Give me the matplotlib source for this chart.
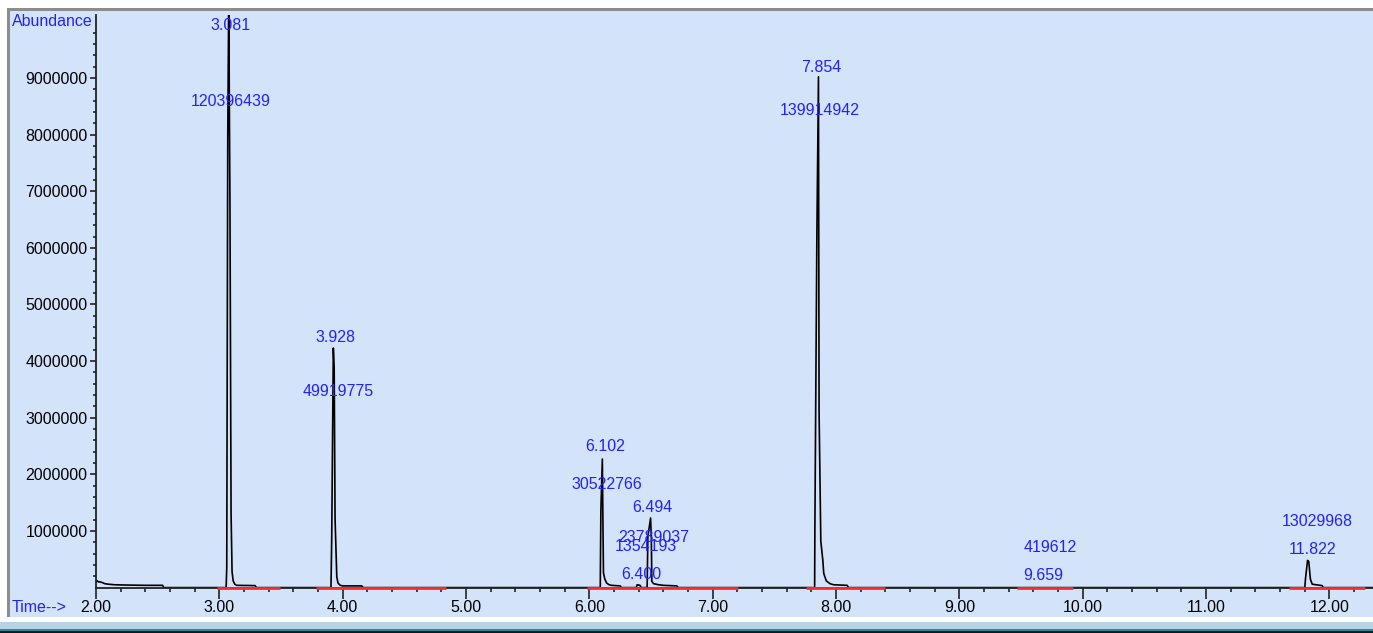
#%% Chromatogramm (TIC) nachbauen

import matplotlib
matplotlib.use("Agg")
import matplotlib.pyplot as plt
from matplotlib.patches import Rectangle
from matplotlib.ticker import FixedLocator, FuncFormatter

#%% Daten

# Spur: Zeit (min) und Abundance
trace_time = [2.000, 2.010, 2.020, 2.035, 2.050, 2.070, 2.100, 2.150, 2.250, 2.400, 2.540, 2.550,
              3.055, 3.060, 3.068, 3.076, 3.086, 3.095, 3.103, 3.112, 3.125, 3.140, 3.290, 3.300,
              3.905, 3.911, 3.924, 3.931, 3.938, 3.952, 3.962, 3.980, 4.000, 4.155, 4.165,
              6.088, 6.093, 6.105, 6.110, 6.114, 6.125, 6.140, 6.160, 6.180, 6.250, 6.260,
              6.380, 6.387, 6.410, 6.420,
              6.468, 6.474, 6.496, 6.502, 6.506, 6.520, 6.560, 6.600, 6.710, 6.720,
              7.826, 7.828, 7.844, 7.857, 7.862, 7.876, 7.892, 7.900, 7.920, 7.950, 7.980, 8.090, 8.100,
              11.800, 11.805, 11.822, 11.832, 11.845, 11.860, 11.940, 11.950, 12.360]
trace_abund = [110000, 120000, 100000, 100000, 90000, 70000, 60000, 50000, 45000, 40000, 40000, 0,
               0, 350000, 7900000, 10400000, 6750000, 1320000, 280000, 120000, 60000, 40000, 35000, 0,
               0, 880000, 4230000, 3880000, 1230000, 190000, 80000, 40000, 30000, 30000, 0,
               0, 1350000, 2270000, 1080000, 260000, 150000, 80000, 50000, 40000, 30000, 0,
               0, 50000, 40000, 0,
               0, 900000, 1230000, 900000, 110000, 70000, 50000, 40000, 30000, 0,
               0, 1060000, 6200000, 9020000, 3110000, 820000, 490000, 250000, 120000, 70000, 50000, 40000, 0,
               0, 150000, 480000, 460000, 150000, 60000, 35000, 0, 0]

# Integrierte Peaks: Retentionszeit und Flaeche
peak_rt = [3.081, 3.928, 6.102, 6.400, 6.494, 7.854, 9.659, 11.822]
peak_area = [120396439, 49919775, 30522766, 1354193, 23789037, 139914942, 419612, 13029968]

# Integrationsbasislinien (Start, Ende)
base_start = [2.98, 3.784, 5.98, 7.76, 9.47, 11.675]
base_end = [3.49, 4.839, 7.207, 8.40, 9.924, 12.29]

#%% Layout der Beschriftungen (x, y fuer RT-Label und Flaechen-Label)

rt_pos = [(3.093, 9.93e6), (3.938, 4.42e6), (6.125, 2.49e6), (6.418, 0.23e6),
          (6.507, 1.41e6), (7.877, 9.19e6), (9.680, 0.22e6), (11.862, 0.67e6)]
area_pos = [(3.093, 8.58e6), (3.963, 3.47e6), (6.144, 1.82e6), (6.455, 0.73e6),
            (6.525, 0.89e6), (7.870, 8.43e6), (9.734, 0.70e6), (11.900, 1.17e6)]

#%% Plot

W, H = 1373, 633
bg = "#d3e3fa"
blue = "#2222ff"
plt.rcParams["font.family"] = ["Liberation Sans", "DejaVu Sans"]

fig = plt.figure(figsize=(W / 100, H / 100), dpi=100, facecolor="white")

# Rahmen / Hintergrund
def fig_rect(x, y, w, h, color):
    fig.patches.append(Rectangle((x / W, 1 - (y + h) / H), w / W, h / H,
                                 transform=fig.transFigure, facecolor=color,
                                 edgecolor="none", zorder=-5))

fig_rect(10, 11, W, 606, bg)
fig_rect(7, 8, W, 3, "#8c8c8c")
fig_rect(7, 8, 3, 609, "#8c8c8c")
fig_rect(0, 622, W, 7, "#b9d3e6")
fig_rect(0, 629, W, 2, "#2a8a9a")
fig_rect(0, 631, W, 2, "#151515")

ax = fig.add_axes([96 / W, (H - 587.6) / H, (W - 96) / W, (587.6 - 15) / H])
ax.set_facecolor("none")
ax.set_zorder(5)

ax.plot(trace_time, trace_abund, color="black", lw=1.2, zorder=2)

for s, e in zip(base_start, base_end):
    ax.plot([s, e], [0, 0], color="#ff2a2a", lw=2.0, zorder=4, clip_on=False,
            solid_capstyle="butt")

for rt, area, (rx, ry), (fx, fy) in zip(peak_rt, peak_area, rt_pos, area_pos):
    ax.text(rx, ry, "%.3f" % rt, color=blue, fontsize=11.5, ha="center", va="center", zorder=5)
    ax.text(fx, fy, "%d" % area, color=blue, fontsize=11.5, ha="center", va="center", zorder=5)

ax.set_xlim(2.0, 2.0 + (W - 96) / 123.35)
ax.set_ylim(0, (587.6 - 15) / 56.625 * 1e6)

for side in ["top", "right"]:
    ax.spines[side].set_visible(False)
for side in ["left", "bottom"]:
    ax.spines[side].set_color("#222222")
    ax.spines[side].set_linewidth(1.3)

ax.xaxis.set_major_locator(FixedLocator([2, 3, 4, 5, 6, 7, 8, 9, 10, 11, 12]))
ax.xaxis.set_minor_locator(FixedLocator([x / 5 for x in range(10, 62) if x % 5 != 0]))
ax.xaxis.set_major_formatter(FuncFormatter(lambda v, p: "%.2f" % v))
ax.yaxis.set_major_locator(FixedLocator([i * 1e6 for i in range(1, 10)]))
ax.yaxis.set_minor_locator(FixedLocator([i * 2e5 for i in range(1, 51) if i % 5 != 0]))
ax.yaxis.set_major_formatter(FuncFormatter(lambda v, p: "%d" % v))

ax.tick_params(axis="x", which="major", length=8, width=1.2, pad=1, labelsize=11.5,
               color="#222222")
ax.tick_params(axis="x", which="minor", length=3, width=1.2, color="#222222")
ax.tick_params(axis="y", which="major", length=4, width=1.2, pad=2, labelsize=11.5,
               color="#222222")
ax.tick_params(axis="y", which="minor", length=2, width=1.2, color="#222222")

fig.text(12 / W, 1 - 21 / H, "Abundance", color=blue, fontsize=11.5, ha="left", va="center")
fig.text(12 / W, 1 - 607 / H, "Time-->", color=blue, fontsize=11.5, ha="left", va="center")

plt.savefig("out.png", dpi=100, facecolor="white")
